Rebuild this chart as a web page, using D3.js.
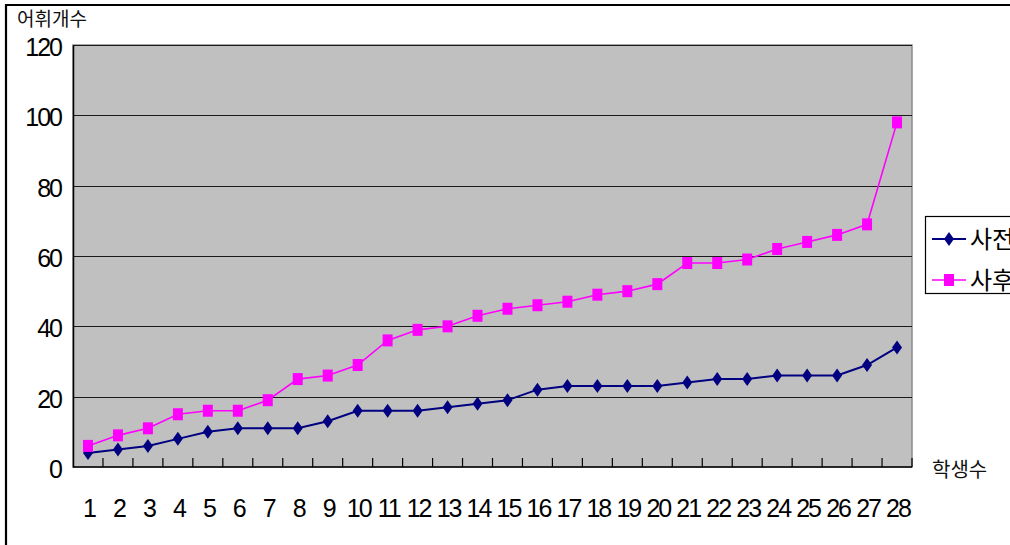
<!DOCTYPE html>
<html><head><meta charset="utf-8">
<script src="https://cdn.jsdelivr.net/npm/d3@7"></script>
<style>
html,body{margin:0;padding:0;background:#fff;overflow:hidden}
svg{display:block}
text{font-family:"Liberation Sans",Arial,sans-serif}
.kr{font-family:"Noto Sans CJK KR","Noto Sans",sans-serif}
</style></head>
<body>
<script>
const students = d3.range(1, 29);
const seriesNames = ["사전", "사후"];
const preValues = [4,5,6,8,10,11,11,11,13,16,16,16,17,18,19,22,23,23,23,23,24,25,25,26,26,26,29,34];
const postValues = [6,9,11,15,16,16,19,25,26,29,36,39,40,43,45,46,47,49,50,52,58,58,59,62,64,66,69,98];
const yTicks = [0,20,40,60,80,100,120];
const yTitle = "어휘개수";
const xTitle = "학생수";

const W = 1010, H = 545;
const plot = {left:73, right:912, top:45, bottom:467};

const svg = d3.select("body").append("svg").attr("width", W).attr("height", H);

// outer frame
svg.append("path").attr("d", `M6,${H} V5 H${W}`).attr("fill","none").attr("stroke","#000").attr("stroke-width",2.2);

const x = d3.scaleBand().domain(students).range([plot.left, plot.right]);
const y = d3.scaleLinear().domain([0,120]).range([plot.bottom, plot.top]);

// plot background
svg.append("rect").attr("x",plot.left).attr("y",plot.top)
  .attr("width",plot.right-plot.left).attr("height",plot.bottom-plot.top)
  .attr("fill","#c0c0c0").attr("stroke","#8a8a8a").attr("stroke-width",1.5);

// gridlines
svg.append("g").selectAll("line").data(yTicks.filter(d=>d>0)).join("line")
  .attr("x1",plot.left).attr("x2",plot.right)
  .attr("y1",d=>Math.round(y(d))+0.5).attr("y2",d=>Math.round(y(d))+0.5)
  .attr("stroke","#1a1a1a").attr("stroke-width",1);

// y axis
const yAxis = d3.axisLeft(y).tickValues(yTicks).tickSize(0).tickPadding(12);
const gy = svg.append("g").attr("transform",`translate(${plot.left},0)`).call(yAxis);
gy.select(".domain").attr("stroke","#000").attr("stroke-width",1.5);
gy.selectAll("text").attr("font-size",25).attr("letter-spacing","-2px").attr("fill","#000").attr("dy","0.42em");

// x axis (ticks between categories, inward)
svg.append("line").attr("x1",plot.left).attr("x2",plot.right)
  .attr("y1",plot.bottom).attr("y2",plot.bottom).attr("stroke","#000").attr("stroke-width",1.5);
svg.append("g").selectAll("line").data(students).join("line")
  .attr("x1",d=>x(d)+x.bandwidth()).attr("x2",d=>x(d)+x.bandwidth())
  .attr("y1",plot.bottom).attr("y2",plot.bottom-9)
  .attr("stroke","#000").attr("stroke-width",1.2);
svg.append("g").selectAll("text").data(students).join("text")
  .attr("x",d=>x(d)+x.bandwidth()/2+1).attr("y",517)
  .attr("text-anchor","middle").attr("font-size",25).attr("letter-spacing","-2px")
  .text(d=>d);

// lines
const cx = d=>x(d)+x.bandwidth()/2;
const line = d3.line().x((d,i)=>cx(students[i])).y(d=>y(d));
svg.append("path").datum(preValues).attr("d",line).attr("fill","none").attr("stroke","#000080").attr("stroke-width",2);
svg.append("path").datum(postValues).attr("d",line).attr("fill","none").attr("stroke","#ff00ff").attr("stroke-width",1.6);

// markers
const diamond = (px,py)=>`M${px},${py-7}L${px+5},${py}L${px},${py+7}L${px-5},${py}Z`;
svg.append("g").selectAll("path").data(preValues).join("path")
  .attr("d",(d,i)=>diamond(cx(students[i]),y(d))).attr("fill","#000080");
svg.append("g").selectAll("rect").data(postValues).join("rect")
  .attr("x",(d,i)=>cx(students[i])-5).attr("y",d=>y(d)-6)
  .attr("width",10).attr("height",12).attr("fill","#ff00ff");

// titles
svg.append("text").attr("class","kr").attr("x",17).attr("y",26).attr("font-size",19).attr("fill","#111").text(yTitle);
svg.append("text").attr("class","kr").attr("x",932).attr("y",477).attr("font-size",20).attr("fill","#111").text(xTitle);

// legend
const lg = svg.append("g");
lg.append("rect").attr("x",925.5).attr("y",216.5).attr("width",120).attr("height",77)
  .attr("fill","#fff").attr("stroke","#000").attr("stroke-width",1.2);
const ly = [239, 280];
lg.append("line").attr("x1",932).attr("x2",966).attr("y1",ly[0]).attr("y2",ly[0]).attr("stroke","#000080").attr("stroke-width",2);
lg.append("path").attr("d",diamond(949,ly[0])).attr("fill","#000080");
lg.append("line").attr("x1",932).attr("x2",966).attr("y1",ly[1]).attr("y2",ly[1]).attr("stroke","#ff00ff").attr("stroke-width",1.6);
lg.append("rect").attr("x",944).attr("y",ly[1]-6).attr("width",10).attr("height",12).attr("fill","#ff00ff");
lg.selectAll("text.lt").data(seriesNames).join("text").attr("class","kr lt")
  .attr("x",970).attr("y",(d,i)=>ly[i]+9).attr("font-size",24).attr("fill","#000").text(d=>d);
</script>
</body></html>
